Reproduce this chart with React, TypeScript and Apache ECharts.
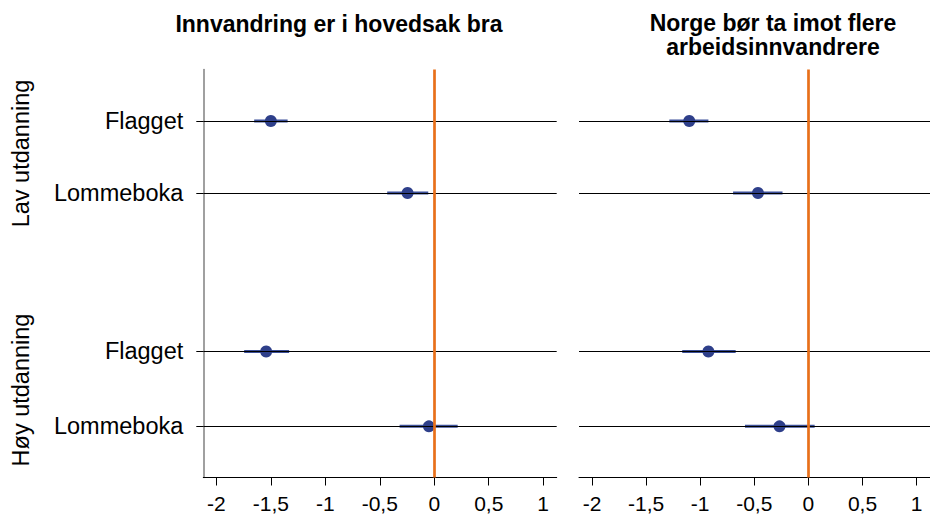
import React, { useEffect, useRef } from "react";
import * as echarts from "echarts";

const titles = ["Innvandring er i hovedsak bra", "Norge bør ta imot flere\narbeidsinnvandrere"];
const groups = ["Lav utdanning", "Høy utdanning"];
const rowLabels = ["Flagget", "Lommeboka", "Flagget", "Lommeboka"];
const rowY = [1, 2, 4.2, 5.24];
const xTicks = [-2, -1.5, -1, -0.5, 0, 0.5, 1];

// Panel 1: Innvandring er i hovedsak bra
const est1 = [-1.5, -0.245, -1.543, -0.049];
const lo1 = [-1.653, -0.432, -1.745, -0.318];
const hi1 = [-1.346, -0.055, -1.332, 0.215];
// Panel 2: Norge bør ta imot flere arbeidsinnvandrere
const est2 = [-1.101, -0.466, -0.924, -0.267];
const lo2 = [-1.285, -0.696, -1.166, -0.586];
const hi2 = [-0.924, -0.239, -0.672, 0.058];

const X_MIN = -2.12;
const X_MAX = 1.124;
const Y_MIN = 0.285;
const Y_MAX = 5.95;

const FONT = "'Liberation Sans', Arial, Helvetica, sans-serif";

export default function App() {
  const ref = useRef<HTMLDivElement>(null);

  useEffect(() => {
    if (!ref.current) return;
    const chart = echarts.init(ref.current, null, { renderer: "svg" });

    const makeData = (est: number[], lo: number[], hi: number[]) =>
      rowY.map((y, i) => [y, lo[i], hi[i], est[i]]);

    const renderItem = (params: any, api: any) => {
      const y = api.value(0);
      const lo = api.value(1);
      const hi = api.value(2);
      const est = api.value(3);
      const p1 = api.coord([lo, y]);
      const p2 = api.coord([hi, y]);
      const pe = api.coord([est, y]);
      return {
        type: "group",
        children: [
          {
            type: "line",
            shape: { x1: p1[0], y1: p1[1], x2: p2[0], y2: p2[1] },
            style: { stroke: "#3B4F99", lineWidth: 3 },
          },
          {
            type: "circle",
            shape: { cx: pe[0], cy: pe[1], r: 6 },
            style: { fill: "#2E3F8A" },
          },
        ],
      };
    };

    const yLabel = (v: number) => {
      const i = rowY.findIndex((r) => Math.abs(r - v) < 1e-6);
      return i >= 0 ? rowLabels[i] : "";
    };

    const xAxisCommon = (gridIndex: number) => ({
      type: "value",
      gridIndex,
      min: X_MIN,
      max: X_MAX,
      axisLine: { show: true, onZero: false, lineStyle: { color: "#000", width: 1 } },
      axisTick: { show: true, customValues: xTicks, length: 8, lineStyle: { color: "#000", width: 1 } },
      axisLabel: {
        customValues: xTicks,
        formatter: (v: number) => String(v).replace(".", ","),
        fontSize: 21,
        color: "#000",
        fontFamily: FONT,
        margin: 15,
      },
      splitLine: { show: false },
    });

    const panelSeries = (idx: number, est: number[], lo: number[], hi: number[]) => [
      {
        type: "line",
        xAxisIndex: idx,
        yAxisIndex: idx,
        data: [],
        z: 1,
        silent: true,
        markLine: {
          silent: true,
          symbol: ["none", "none"],
          label: { show: false },
          lineStyle: { color: "#000", width: 1, type: "solid" },
          data: rowY.map((v) => ({ yAxis: v })),
        },
      },
      {
        type: "custom",
        xAxisIndex: idx,
        yAxisIndex: idx,
        z: 3,
        renderItem,
        encode: { x: [1, 2, 3], y: 0 },
        data: makeData(est, lo, hi),
      },
      {
        type: "line",
        xAxisIndex: idx,
        yAxisIndex: idx,
        data: [],
        z: 5,
        silent: true,
        markLine: {
          silent: true,
          symbol: ["none", "none"],
          label: { show: false },
          lineStyle: { color: "#E8701A", width: 2.7, type: "solid" },
          data: [{ xAxis: 0 }],
        },
      },
    ];

    chart.setOption({
      animation: false,
      backgroundColor: "#fff",
      textStyle: { fontFamily: FONT },
      title: [
        {
          text: titles[0],
          left: 334,
          top: 7,
          textAlign: "center",
          textStyle: { fontSize: 23, fontWeight: "bold", color: "#000", fontFamily: FONT, lineHeight: 24 },
        },
        {
          text: titles[1],
          left: 768,
          top: 6,
          textAlign: "center",
          textStyle: { fontSize: 23, fontWeight: "bold", color: "#000", fontFamily: FONT, lineHeight: 24 },
        },
      ],
      grid: [
        { left: 203.3, top: 69.5, width: 353.4, height: 408 },
        { left: 579, top: 69.5, width: 353.4, height: 408 },
      ],
      xAxis: [xAxisCommon(0), xAxisCommon(1)],
      yAxis: [
        {
          type: "value",
          gridIndex: 0,
          inverse: true,
          min: Y_MIN,
          max: Y_MAX,
          axisLine: { show: true, onZero: false, lineStyle: { color: "#808080", width: 1.5 } },
          axisTick: { show: true, customValues: rowY, length: 7, lineStyle: { color: "#000", width: 1 } },
          axisLabel: {
            customValues: rowY,
            formatter: yLabel,
            fontSize: 23.5,
            color: "#000",
            fontFamily: FONT,
            margin: 20,
          },
          splitLine: { show: false },
        },
        {
          type: "value",
          gridIndex: 1,
          inverse: true,
          min: Y_MIN,
          max: Y_MAX,
          axisLine: { show: false, onZero: false },
          axisTick: { show: false },
          axisLabel: { show: false },
          splitLine: { show: false },
        },
      ],
      graphic: [
        {
          type: "text",
          x: 21,
          y: 153.5,
          rotation: Math.PI / 2,
          style: {
            text: groups[0],
            fontSize: 23.5,
            fontFamily: FONT,
            fill: "#000",
            align: "center",
            verticalAlign: "middle",
          },
        },
        {
          type: "text",
          x: 21,
          y: 390,
          rotation: Math.PI / 2,
          style: {
            text: groups[1],
            fontSize: 23.5,
            fontFamily: FONT,
            fill: "#000",
            align: "center",
            verticalAlign: "middle",
          },
        },
      ],
      series: [...panelSeries(0, est1, lo1, hi1), ...panelSeries(1, est2, lo2, hi2)],
    });

    return () => chart.dispose();
  }, []);

  return (
    <div
      ref={ref}
      style={{ position: "fixed", left: 0, top: 0, width: 930, height: 516 }}
    />
  );
}
